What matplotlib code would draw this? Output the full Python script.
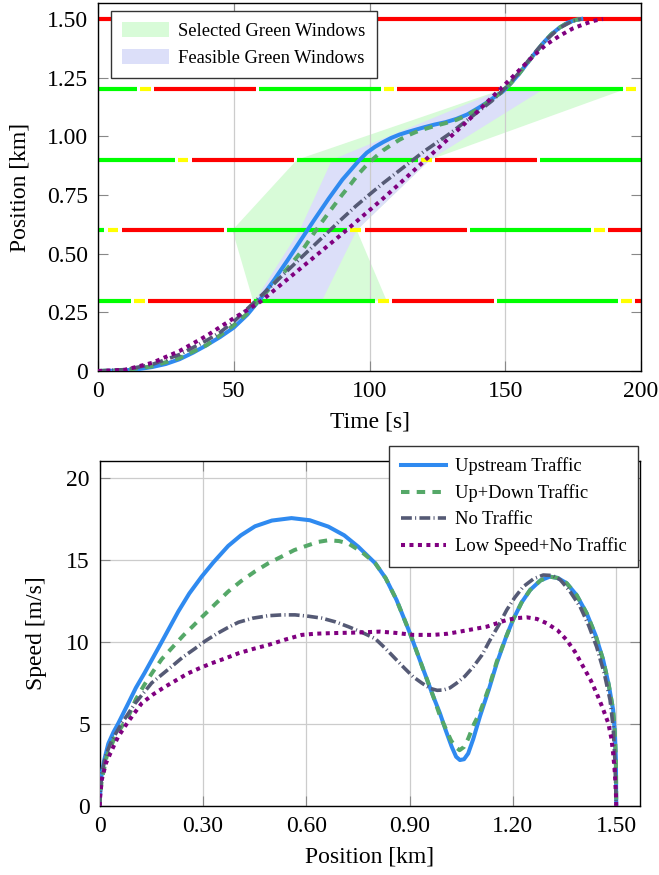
import numpy as np
import matplotlib
matplotlib.use("Agg")
import matplotlib.pyplot as plt
from matplotlib.patches import Patch

plt.rcParams['font.family'] = ['Liberation Serif', 'DejaVu Serif']
plt.rcParams['font.size'] = 17

# ============================================================
# DATA - top panel (position vs time)
# ============================================================

# signal phases per intersection: (start [s], end [s], phase)
sig_pos = [0.3, 0.6, 0.9, 1.2, 1.5]
sig_phases = [
    [(0, 12.3, 'G'), (13.4, 17.4, 'Y'), (18.5, 56.3, 'R'), (57.4, 102.0, 'G'),
     (103.1, 107.1, 'Y'), (108.2, 146.0, 'R'), (147.0, 191.5, 'G'),
     (192.6, 196.6, 'Y'), (197.7, 200, 'R')],
    [(0, 2.3, 'G'), (3.6, 7.5, 'Y'), (8.7, 46.3, 'R'), (47.5, 91.8, 'G'),
     (93.0, 97.0, 'Y'), (98.2, 135.9, 'R'), (137.0, 181.6, 'G'),
     (182.7, 186.7, 'Y'), (187.8, 200, 'R')],
    [(0, 28.3, 'G'), (29.4, 33.3, 'Y'), (34.5, 72.2, 'R'), (73.3, 117.9, 'G'),
     (119.1, 123.0, 'Y'), (124.1, 161.7, 'R'), (162.8, 200, 'G')],
    [(0, 14.2, 'G'), (15.4, 19.4, 'Y'), (20.6, 58.2, 'R'), (59.3, 104.1, 'G'),
     (105.3, 109.2, 'Y'), (110.3, 147.8, 'R'), (149.0, 193.2, 'G'),
     (194.4, 198.3, 'Y')],
    [(0, 200, 'R')],
]

# green window polygons (edges at each intersection)
win_pos = [0.3, 0.6, 0.9, 1.2]
sel_left = [57.1, 49.5, 73.3, 149.0]
sel_right = [106.3, 95.3, 122.3, 194.0]
feas_left = [57.8, 74.3, 86.2, 149.0]
feas_right = [82.5, 95.3, 122.3, 164.0]

t_up = [0, 5, 10, 15, 20, 25, 30, 35, 40, 45, 50, 55, 60, 65, 70, 75, 80, 85,
        90, 93, 96, 99, 102, 105, 108, 111, 114, 117, 120, 124, 128, 132, 136,
        140, 143, 146, 149, 152, 155, 158, 161, 164, 167, 170, 173, 176, 178]
x_up = [0, 0.001, 0.003, 0.008, 0.017, 0.03, 0.05, 0.078, 0.11, 0.145, 0.185,
        0.24, 0.31, 0.39, 0.475, 0.563, 0.65, 0.735, 0.815, 0.855, 0.895, 0.93,
        0.955, 0.975, 0.993, 1.007, 1.018, 1.028, 1.038, 1.05, 1.06, 1.074,
        1.093, 1.12, 1.142, 1.167, 1.19, 1.225, 1.265, 1.31, 1.355, 1.398,
        1.435, 1.463, 1.484, 1.496, 1.5]

t_ud = [0, 10, 20, 30, 40, 50, 55, 60, 65, 70, 75, 80, 85, 90, 93, 96, 99,
        102, 105, 108, 111, 114, 117, 120, 124, 128, 132, 136, 140, 143, 146,
        149, 152, 155, 158, 161, 164, 167, 170, 173, 176, 178]
x_ud = [0, 0.004, 0.02, 0.055, 0.11, 0.195, 0.245, 0.31, 0.375, 0.44, 0.51,
        0.595, 0.675, 0.752, 0.795, 0.84, 0.878, 0.91, 0.94, 0.963, 0.985,
        1.003, 1.018, 1.03, 1.044, 1.056, 1.07, 1.09, 1.116, 1.14, 1.166, 1.19,
        1.225, 1.265, 1.31, 1.355, 1.398, 1.435, 1.463, 1.484, 1.496, 1.5]

t_nt = [0, 10, 20, 30, 35, 40, 45, 50, 55, 60, 65, 70, 75, 80, 85, 90, 95,
        100, 105, 110, 115, 120, 125, 130, 135, 140, 145, 150, 155, 160, 165,
        170, 175, 178]
x_nt = [0, 0.006, 0.028, 0.07, 0.1, 0.13, 0.165, 0.21, 0.265, 0.32, 0.375,
        0.43, 0.485, 0.54, 0.595, 0.65, 0.703, 0.752, 0.8, 0.845, 0.89, 0.935,
        0.975, 1.015, 1.06, 1.105, 1.15, 1.205, 1.27, 1.345, 1.41, 1.462,
        1.492, 1.5]

t_ls = [0, 10, 20, 30, 40, 50, 55, 60, 65, 70, 75, 80, 85, 90, 95, 100, 105,
        110, 115, 120, 125, 130, 135, 140, 145, 150, 155, 160, 165, 170, 175,
        180, 183, 186]
x_ls = [0, 0.005, 0.035, 0.085, 0.15, 0.225, 0.26, 0.297, 0.345, 0.393,
        0.441, 0.489, 0.537, 0.585, 0.635, 0.685, 0.735, 0.787, 0.84, 0.893,
        0.946, 1.0, 1.053, 1.108, 1.165, 1.222, 1.28, 1.338, 1.39, 1.428, 1.46,
        1.482, 1.493, 1.5]

# ============================================================
# DATA - bottom panel (speed vs position)
# ============================================================

p_up = [0, 0.001, 0.003, 0.006, 0.012, 0.025, 0.04, 0.054, 0.083, 0.105,
        0.13, 0.155, 0.18, 0.228, 0.26, 0.296, 0.33, 0.373, 0.41, 0.451, 0.5,
        0.557, 0.61, 0.664, 0.71, 0.751, 0.8, 0.83, 0.862, 0.901, 0.94, 0.97,
        0.988, 1.005, 1.022, 1.035, 1.046, 1.058, 1.07, 1.085, 1.104, 1.13,
        1.153, 1.18, 1.2, 1.225, 1.25, 1.28, 1.307, 1.33, 1.356, 1.385, 1.414,
        1.44, 1.462, 1.478, 1.491, 1.496, 1.499, 1.5]
v_up = [0, 0.6, 1.3, 2.0, 2.7, 3.8, 4.5, 5.04, 6.26, 7.2, 8.1, 9.05, 10.0,
        11.85, 12.95, 13.98, 14.85, 15.85, 16.5, 17.05, 17.4, 17.55, 17.42,
        17.03, 16.5, 15.8, 14.8, 13.9, 12.56, 10.53, 8.3, 6.6, 5.65, 4.6, 3.62,
        3.0, 2.8, 2.85, 3.2, 4.1, 5.45, 7.1, 8.7, 10.3, 11.34, 12.4, 13.17,
        13.75, 13.98, 13.9, 13.58, 12.85, 11.75, 10.4, 8.9, 7.4, 5.85, 4.4,
        2.8, 0]

p_ud = [0, 0.001, 0.006, 0.02, 0.044, 0.083, 0.105, 0.13, 0.155, 0.18, 0.219,
        0.243, 0.27, 0.296, 0.335, 0.373, 0.41, 0.451, 0.49, 0.528, 0.565,
        0.606, 0.635, 0.664, 0.695, 0.722, 0.76, 0.8, 0.83, 0.862, 0.901, 0.94,
        0.97, 0.988, 1.005, 1.02, 1.033, 1.045, 1.058, 1.07, 1.087, 1.104,
        1.13, 1.153, 1.18, 1.2, 1.225, 1.25, 1.28, 1.307, 1.33, 1.356, 1.385,
        1.414, 1.44, 1.462, 1.478, 1.491, 1.496, 1.499, 1.5]
v_ud = [0, 0.6, 1.6, 3.0, 4.2, 5.45, 6.5, 7.4, 8.2, 8.95, 9.85, 10.4, 10.95,
        11.5, 12.3, 13.07, 13.7, 14.3, 14.8, 15.2, 15.6, 15.9, 16.1, 16.2,
        16.15, 16.0, 15.5, 14.8, 13.9, 12.56, 10.53, 8.3, 6.6, 5.5, 4.7, 4.0,
        3.6, 3.4, 3.6, 4.1, 5.0, 5.7, 7.2, 8.8, 10.3, 11.34, 12.4, 13.17,
        13.75, 13.98, 13.9, 13.58, 12.85, 11.75, 10.4, 8.9, 7.4, 5.85, 4.4,
        2.8, 0]

p_nt = [0, 0.001, 0.006, 0.018, 0.035, 0.064, 0.103, 0.151, 0.18, 0.209, 0.24,
        0.277, 0.306, 0.34, 0.37, 0.403, 0.445, 0.49, 0.53, 0.567, 0.605,
        0.645, 0.685, 0.722, 0.76, 0.8, 0.83, 0.862, 0.885, 0.91, 0.935,
        0.959, 0.98, 0.998, 1.017, 1.036, 1.06, 1.085, 1.11, 1.133, 1.158,
        1.182, 1.205, 1.23, 1.26, 1.288, 1.315, 1.337, 1.365, 1.395, 1.42,
        1.443, 1.465, 1.482, 1.491, 1.496, 1.5]
v_nt = [0, 0.6, 2.0, 3.1, 4.0, 5.04, 6.26, 7.5, 8.0, 8.5, 9.05, 9.6, 10.05,
        10.5, 10.85, 11.2, 11.45, 11.6, 11.65, 11.65, 11.57, 11.45, 11.22,
        10.93, 10.6, 10.2, 9.6, 8.9, 8.4, 7.88, 7.5, 7.17, 7.05, 7.07, 7.2,
        7.48, 7.9, 8.49, 9.2, 10.1, 11.0, 11.95, 12.7, 13.37, 13.85, 14.08,
        14.05, 13.8, 13.1, 12.15, 11.0, 9.7, 8.1, 6.46, 4.8, 2.8, 0]

p_ls = [0, 0.001, 0.006, 0.018, 0.035, 0.053, 0.073, 0.095, 0.122, 0.155,
        0.19, 0.225, 0.257, 0.29, 0.325, 0.365, 0.403, 0.445, 0.49, 0.54,
        0.587, 0.625, 0.664, 0.70, 0.741, 0.78, 0.814, 0.86, 0.91, 0.969,
        1.01, 1.046, 1.085, 1.124, 1.155, 1.182, 1.21, 1.24, 1.27, 1.298,
        1.33, 1.356, 1.38, 1.404, 1.425, 1.443, 1.46, 1.477, 1.486, 1.491,
        1.496, 1.499, 1.5]
v_ls = [0, 0.5, 1.6, 2.6, 3.4, 4.2, 4.84, 5.5, 6.26, 6.8, 7.27, 7.7, 8.09,
        8.4, 8.7, 9.0, 9.31, 9.57, 9.82, 10.15, 10.43, 10.5, 10.53, 10.55,
        10.57, 10.6, 10.63, 10.55, 10.43, 10.43, 10.5, 10.63, 10.78, 10.93,
        11.15, 11.34, 11.45, 11.5, 11.4, 11.14, 10.7, 10.12, 9.4, 8.49, 7.7,
        6.87, 6.0, 5.04, 4.1, 3.2, 2.0, 0.77, 0]

labels = ["Upstream Traffic", "Up+Down Traffic", "No Traffic",
          "Low Speed+No Traffic"]

# ============================================================
# STYLES
# ============================================================

phase_color = {'G': '#00ff00', 'Y': '#ffff00', 'R': '#ff0000'}

styles = [
    dict(color='#2f8af0', lw=2.9, ls='-'),
    dict(color='#55a868', lw=2.9, ls=(0, (2.1, 1.8))),
    dict(color='#555a75', lw=2.6, ls=(0, (3.0, 0.9, 0.3, 0.9))),
    dict(color='#800080', lw=2.9, ls=(0, (1.0, 1.1))),
]


def style_axes(ax):
    ax.tick_params(direction='in', top=True, right=True, length=7.5,
                   width=0.8, color='#888888', pad=7, labelsize=17)
    for sp in ax.spines.values():
        sp.set_linewidth(1.0)
        sp.set_color('black')


fig = plt.figure(figsize=(6.59, 8.75), dpi=100)

# ============================================================
# TOP PANEL
# ============================================================

ax1 = fig.add_axes([0.1487, 0.576, 0.824, 0.4206])

poly_y = win_pos + win_pos[::-1]
ax1.fill(sel_left + sel_right[::-1], poly_y, color='#d8fbd8', lw=0, zorder=1)
ax1.fill(feas_left + feas_right[::-1], poly_y, color='#dcdff9', lw=0,
         zorder=1.1)

for y, phases in zip(sig_pos, sig_phases):
    for t0, t1, ph in phases:
        ax1.plot([t0, t1], [y, y], color=phase_color[ph], lw=3.0,
                 solid_capstyle='butt', zorder=2)

for (t, x), st in zip([(t_up, x_up), (t_ud, x_ud), (t_nt, x_nt),
                       (t_ls, x_ls)], styles):
    ax1.plot(t, x, color=st['color'], lw=st['lw'], linestyle=st['ls'],
             zorder=3)

ax1.set_xlim(0, 200)
ax1.set_ylim(0, 1.568)
ax1.set_xticks([0, 50, 100, 150, 200])
ax1.set_yticks([0, 0.25, 0.5, 0.75, 1.0, 1.25, 1.5])
ax1.set_yticklabels(["0", "0.25", "0.50", "0.75", "1.00", "1.25", "1.50"])
ax1.grid(True, axis='x', color='#cccccc', lw=0.9)
ax1.set_xlabel("Time [s]", fontsize=17, labelpad=7)
ax1.set_ylabel("Position [km]", fontsize=17, labelpad=12)
style_axes(ax1)

handles1 = [Patch(facecolor='#d8fbd8', edgecolor='none'),
            Patch(facecolor='#dcdff9', edgecolor='none')]
leg1 = ax1.legend(handles1, ["Selected Green Windows",
                             "Feasible Green Windows"],
                  loc='upper left', bbox_to_anchor=(0.024, 0.978),
                  fontsize=13.3, fancybox=False, framealpha=1,
                  edgecolor='#333333', handlelength=2.55, handleheight=0.87,
                  labelspacing=0.5, borderpad=0.6, handletextpad=0.5,
                  borderaxespad=0)
leg1.get_frame().set_linewidth(1.0)

# ============================================================
# BOTTOM PANEL
# ============================================================

ax2 = fig.add_axes([0.1513, 0.0789, 0.8199, 0.3946])

for (p, v), st, lab in zip([(p_up, v_up), (p_ud, v_ud), (p_nt, v_nt),
                            (p_ls, v_ls)], styles, labels):
    ax2.plot(p, v, color=st['color'], lw=st['lw'], linestyle=st['ls'],
             label=lab, zorder=3)

ax2.set_xlim(0, 1.569)
ax2.set_ylim(0, 21.05)
ax2.set_xticks([0, 0.3, 0.6, 0.9, 1.2, 1.5])
ax2.set_xticklabels(["0", "0.30", "0.60", "0.90", "1.20", "1.50"])
ax2.set_yticks([0, 5, 10, 15, 20])
ax2.grid(True, color='#cccccc', lw=0.9)
ax2.set_xlabel("Position [km]", fontsize=17, labelpad=7)
ax2.set_ylabel("Speed [m/s]", fontsize=17, labelpad=14)
style_axes(ax2)

leg2 = ax2.legend(loc='upper right', bbox_to_anchor=(0.996, 1.0425),
                  fontsize=13.3, fancybox=False, framealpha=1,
                  edgecolor='#333333', handlelength=2.45,
                  labelspacing=0.5, borderpad=0.6, handletextpad=0.5,
                  borderaxespad=0)
leg2.get_frame().set_linewidth(1.0)

fig.savefig("out.png", dpi=100)
